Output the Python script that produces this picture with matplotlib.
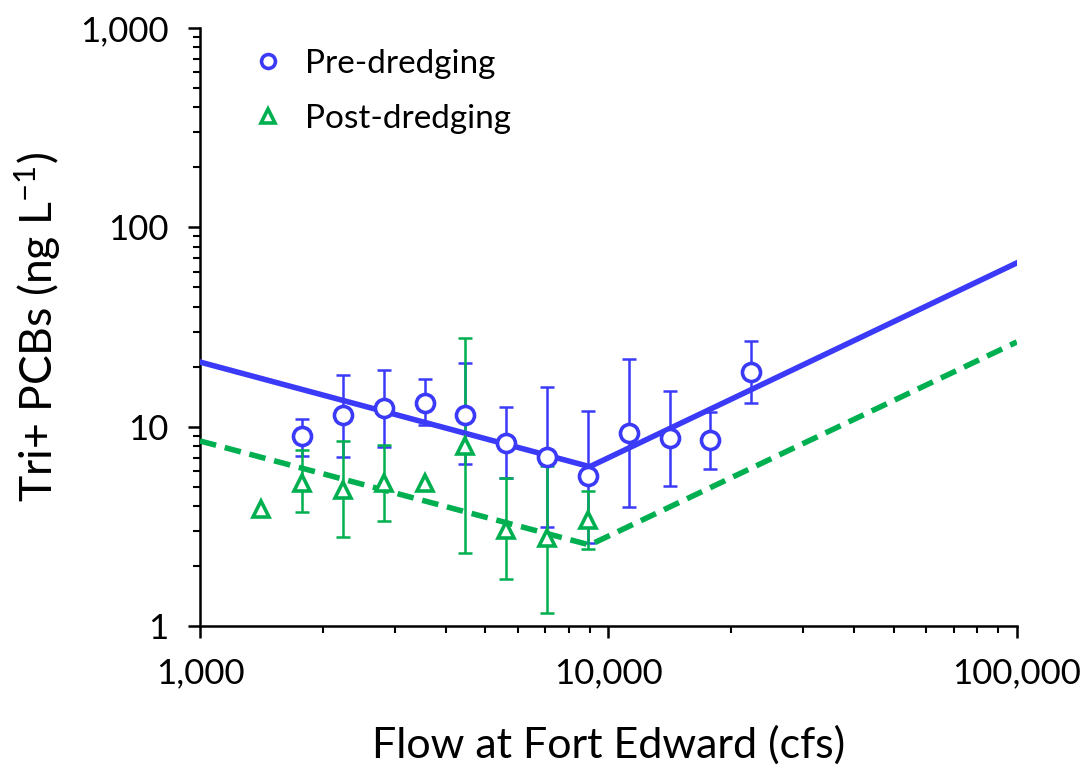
import matplotlib
matplotlib.use('Agg')
import matplotlib.pyplot as plt
from matplotlib.ticker import FuncFormatter, LogLocator, NullFormatter

plt.rcParams['font.family'] = ['Lato', 'DejaVu Sans']
plt.rcParams['mathtext.default'] = 'regular'

# Pre-dredging binned means with error bars
pre_flow = [1778, 2239, 2818, 3548, 4467, 5623, 7079, 8913, 11220, 14125, 17783, 22387]
pre_pcb = [8.98, 11.45, 12.37, 13.1, 11.5, 8.26, 7.02, 5.66, 9.27, 8.81, 8.55, 18.8]
pre_hi = [10.97, 18.2, 19.3, 17.3, 20.8, 12.6, 15.9, 12.0, 21.9, 15.1, 11.9, 27.0]
pre_lo = [7.15, 7.07, 7.94, 10.2, 6.48, 5.55, 3.15, 2.62, 3.97, 5.06, 6.15, 13.2]

# Post-dredging binned means (None = no error bar)
post_flow = [1413, 1778, 2239, 2818, 3548, 4467, 5623, 7079, 8913]
post_pcb = [3.85, 5.24, 4.81, 5.20, 5.20, 8.0, 3.03, 2.75, 3.40]
post_hi = [None, 7.64, 8.51, 8.12, None, 27.8, 5.55, 6.35, 4.77]
post_lo = [None, 3.72, 2.79, 3.35, None, 2.33, 1.72, 1.16, 2.44]

# Piecewise regression lines
fit_flow = [1000, 9000, 100000]
pre_fit = [21.1, 6.3, 66.3]
post_fit = [8.48, 2.55, 26.6]

blue = '#3A3AF8'
green = '#00B050'

fig = plt.figure(figsize=(10.84, 7.7), dpi=100)
ax = fig.add_axes([0.1845, 0.187, 0.7535, 0.7766])

ax.plot(fit_flow, pre_fit, color=blue, lw=4, zorder=3)
ax.plot(fit_flow, post_fit, color=green, lw=4, ls=(0, (3, 1.6)), zorder=3)

# error bars
pre_err = [[p - l for p, l in zip(pre_pcb, pre_lo)], [h - p for p, h in zip(pre_pcb, pre_hi)]]
ax.errorbar(pre_flow, pre_pcb, yerr=pre_err, fmt='none', ecolor=blue, elinewidth=1.8,
            capsize=5, capthick=1.8, zorder=2)
pf = [f for f, h in zip(post_flow, post_hi) if h is not None]
pp = [p for p, h in zip(post_pcb, post_hi) if h is not None]
ph = [h for h in post_hi if h is not None]
pl = [l for l in post_lo if l is not None]
post_err = [[p - l for p, l in zip(pp, pl)], [h - p for p, h in zip(pp, ph)]]
ax.errorbar(pf, pp, yerr=post_err, fmt='none', ecolor=green, elinewidth=1.8,
            capsize=5, capthick=1.8, zorder=2)

ax.plot(pre_flow, pre_pcb, 'o', ms=13, mfc='white', mec=blue, mew=2.6, ls='none',
        zorder=4, label='Pre-dredging')
ax.plot(post_flow, post_pcb, '^', ms=11.5, mfc='white', mec=green, mew=2.6, ls='none',
        zorder=4, label='Post-dredging')

ax.set_xscale('log')
ax.set_yscale('log')
ax.set_xlim(1000, 100000)
ax.set_ylim(1, 1000)

fmt = FuncFormatter(lambda v, pos: f'{v:,.0f}')
ax.xaxis.set_major_formatter(fmt)
ax.yaxis.set_major_formatter(fmt)
ax.xaxis.set_minor_locator(LogLocator(base=10, subs=range(2, 10)))
ax.yaxis.set_minor_locator(LogLocator(base=10, subs=range(2, 10)))
ax.xaxis.set_minor_formatter(NullFormatter())
ax.yaxis.set_minor_formatter(NullFormatter())

ax.spines['top'].set_visible(False)
ax.spines['right'].set_visible(False)
ax.spines['left'].set_linewidth(1.8)
ax.spines['bottom'].set_linewidth(1.8)
ax.tick_params(which='major', direction='out', length=8.5, width=1.8, labelsize=25)
ax.tick_params(which='minor', direction='out', length=5, width=1.5)
ax.tick_params(axis='x', which='major', pad=14)
ax.tick_params(axis='y', which='major', pad=14)

ax.set_xlabel('Flow at Fort Edward (cfs)', fontsize=31, labelpad=26)
ax.set_ylabel('Tri+ PCBs (ng L$^{-1}$)', fontsize=32, labelpad=12)

leg = ax.legend(loc='upper left', frameon=False, fontsize=24, handletextpad=0.5,
                labelspacing=0.75, handlelength=1.2, bbox_to_anchor=(0.022, 1.015))
for h in leg.legend_handles:
    h.set_markersize(10)

fig.savefig('out.png', dpi=100)
